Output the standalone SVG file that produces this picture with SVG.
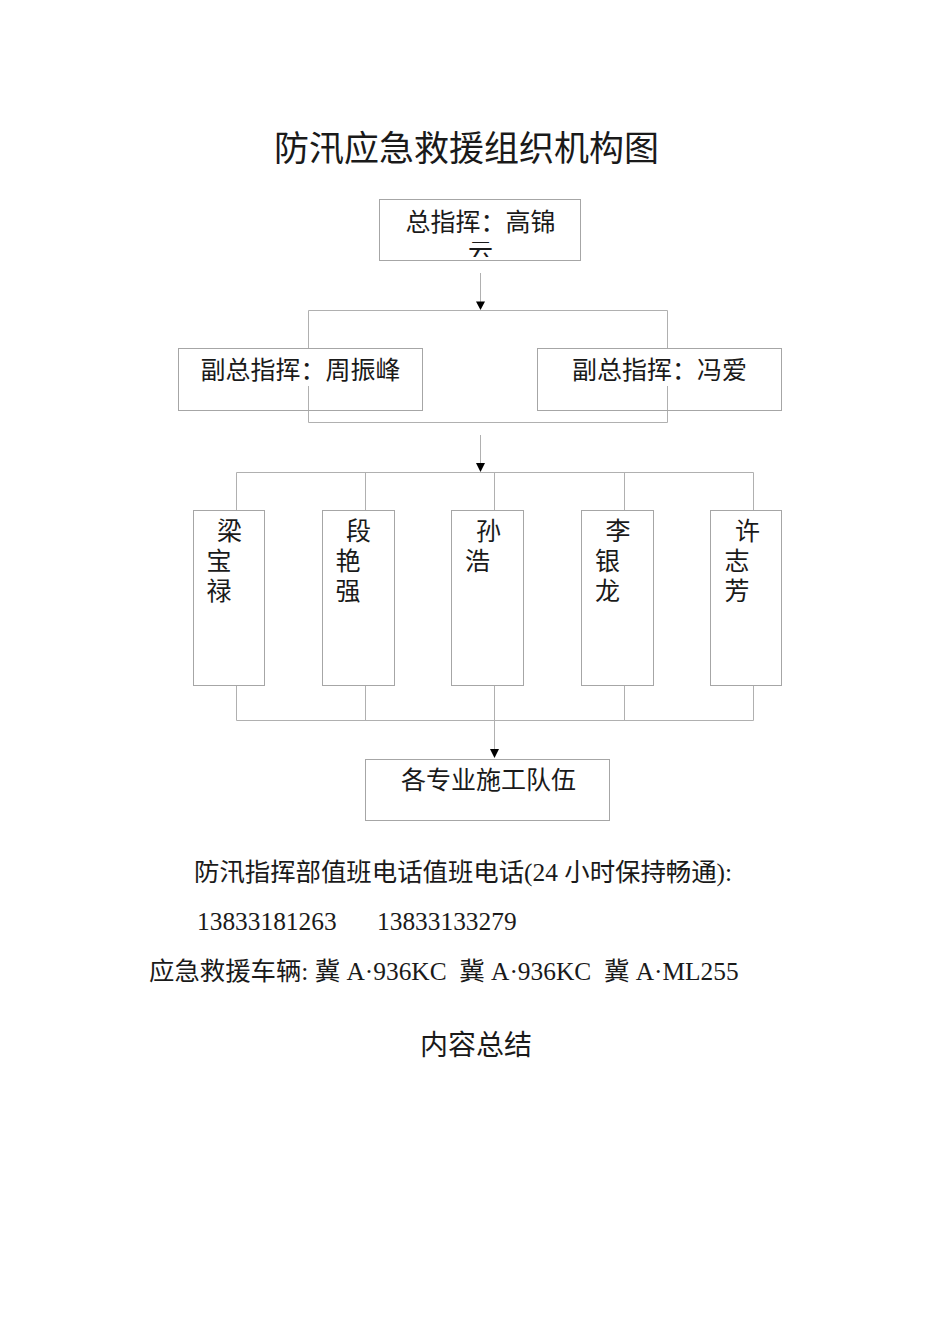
<svg xmlns="http://www.w3.org/2000/svg" width="950" height="1344" viewBox="0 0 950 1344">
<style>
  .box{fill:none;stroke:#a6a6a6;stroke-width:1}
  .frame{fill:#ffffff;stroke:none}
  .ln{fill:none;stroke:#b0b0b0;stroke-width:1}
  .cjk{font-family:"Liberation Sans","Noto Sans CJK SC",sans-serif;font-size:25px;fill:#1a1a1a}
  .body{font-family:"Liberation Serif","Noto Sans CJK SC",serif;font-size:25.4px;fill:#1a1a1a}
</style>
<defs>
  <clipPath id="topclip"><rect x="380" y="242" width="200" height="15"/></clipPath>
</defs>
<rect width="950" height="1344" fill="#ffffff"/>

<text x="466.5" y="161" text-anchor="middle" style="font-family:'Liberation Sans','Noto Sans CJK SC',sans-serif;font-size:35px;fill:#1a1a1a">防汛应急救援组织机构图</text>

<g id="connectors">
  <line class="ln" x1="480.5" y1="273" x2="480.5" y2="303"/>
  <polygon points="476,301.5 485,301.5 480.5,310" fill="#000"/>
  <polyline class="ln" points="308.5,348 308.5,310.5 667.5,310.5 667.5,348"/>
  <polyline class="ln" points="308.5,386 308.5,422.5 667.5,422.5 667.5,386"/>
  <line class="ln" x1="308.5" y1="348" x2="308.5" y2="386"/>
  <line class="ln" x1="667.5" y1="348" x2="667.5" y2="386"/>
  <line class="ln" x1="480.5" y1="435" x2="480.5" y2="464"/>
  <polygon points="476,463 485,463 480.5,472" fill="#000"/>
  <line class="ln" x1="236.5" y1="472.5" x2="753.5" y2="472.5"/>
  <line class="ln" x1="236.5" y1="472.5" x2="236.5" y2="510"/>
  <line class="ln" x1="365.5" y1="472.5" x2="365.5" y2="510"/>
  <line class="ln" x1="494.5" y1="472.5" x2="494.5" y2="510"/>
  <line class="ln" x1="624.5" y1="472.5" x2="624.5" y2="510"/>
  <line class="ln" x1="753.5" y1="472.5" x2="753.5" y2="510"/>
  <line class="ln" x1="236.5" y1="720.5" x2="753.5" y2="720.5"/>
  <line class="ln" x1="236.5" y1="685" x2="236.5" y2="720.5"/>
  <line class="ln" x1="365.5" y1="685" x2="365.5" y2="720.5"/>
  <line class="ln" x1="624.5" y1="685" x2="624.5" y2="720.5"/>
  <line class="ln" x1="753.5" y1="685" x2="753.5" y2="720.5"/>
  <line class="ln" x1="494.5" y1="685" x2="494.5" y2="750"/>
  <polygon points="490,749 499,749 494.5,758" fill="#000"/>
</g>

<g id="chief">
  <rect class="box" x="379.5" y="199.5" width="201" height="61" style="fill:#fff"/>
  <text class="cjk" x="480.5" y="231" text-anchor="middle">总指挥：高锦</text>
  <g clip-path="url(#topclip)"><text class="cjk" x="480.5" y="260" text-anchor="middle">云</text></g>
</g>

<g id="deputy1">
  <rect class="frame" x="179" y="349" width="243" height="37"/>
  <rect class="box" x="178.5" y="348.5" width="244" height="62"/>
  <text class="cjk" x="300.5" y="378.5" text-anchor="middle">副总指挥：周振峰</text>
</g>

<g id="deputy2">
  <rect class="frame" x="538" y="349" width="243" height="37"/>
  <rect class="box" x="537.5" y="348.5" width="244" height="62"/>
  <text class="cjk" x="659.5" y="378.5" text-anchor="middle">副总指挥：冯爱</text>
</g>

<g id="m1">
  <rect class="box" x="193.5" y="510.5" width="71" height="175"/>
  <text class="cjk" x="217" y="539.5">梁</text>
  <text class="cjk" x="206.5" y="569.5">宝</text>
  <text class="cjk" x="206.5" y="599.5">禄</text>
</g>
<g id="m2">
  <rect class="box" x="322.5" y="510.5" width="72" height="175"/>
  <text class="cjk" x="346" y="539.5">段</text>
  <text class="cjk" x="335.5" y="569.5">艳</text>
  <text class="cjk" x="335.5" y="599.5">强</text>
</g>
<g id="m3">
  <rect class="box" x="451.5" y="510.5" width="72" height="175"/>
  <text class="cjk" x="476" y="539.5">孙</text>
  <text class="cjk" x="465" y="569.5">浩</text>
</g>
<g id="m4">
  <rect class="box" x="581.5" y="510.5" width="72" height="175"/>
  <text class="cjk" x="605.5" y="539.5">李</text>
  <text class="cjk" x="595" y="569.5">银</text>
  <text class="cjk" x="595" y="599.5">龙</text>
</g>
<g id="m5">
  <rect class="box" x="710.5" y="510.5" width="71" height="175"/>
  <text class="cjk" x="735" y="539.5">许</text>
  <text class="cjk" x="724.5" y="569.5">志</text>
  <text class="cjk" x="724.5" y="599.5">芳</text>
</g>

<g id="teams">
  <rect class="box" x="365.5" y="759.5" width="244" height="61"/>
  <text class="cjk" x="488.5" y="788.5" text-anchor="middle">各专业施工队伍</text>
</g>

<text class="body" x="194" y="881">防汛指挥部值班电话值班电话(24 小时保持畅通):</text>
<text class="body" x="197" y="930">13833181263</text>
<text class="body" x="377" y="930">13833133279</text>
<text class="body" x="149" y="980" xml:space="preserve">应急救援车辆: 冀 A·936KC  冀 A·936KC  冀 A·ML255</text>
<text x="476" y="1055" text-anchor="middle" style="font-family:'Liberation Sans','Noto Sans CJK SC',sans-serif;font-size:28px;fill:#1a1a1a">内容总结</text>
</svg>
